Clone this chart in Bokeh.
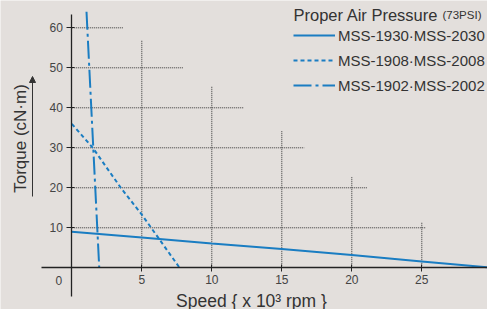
import math
from bokeh.plotting import figure
from bokeh.models import (Range1d, LinearAxis, FixedTicker, Label, Arrow, NormalHead,
                          Legend, LegendItem)
from bokeh.embed import file_html
from bokeh.resources import INLINE

# ---- data ----
speed_solid = [0, 5, 10, 15, 20, 25, 30]
torque_solid = [9.0, 7.6, 6.1, 4.7, 3.2, 1.6, 0.0]
speed_dashed = [0, 1.5, 3.5, 5, 7.7]
torque_dashed = [36.0, 30.0, 20.0, 13.3, 0.0]
speed_dashdot = [1.05, 1.96]
torque_dashdot = [64.0, 0.0]

series_names = ["MSS-1930·MSS-2030", "MSS-1908·MSS-2008", "MSS-1902·MSS-2002"]
x_ticks = [5, 10, 15, 20, 25, 30]
y_ticks = [10, 20, 30, 40, 50, 60]

# staircase guide lines
grid_h_y = [10, 20, 30, 40, 50, 60]
grid_h_end = [25.3, 21.1, 16.6, 12.3, 8.0, 3.7]
grid_v_x = [5, 10, 15, 20, 25]
grid_v_top = [57.0, 45.4, 34.2, 22.7, 11.3]

title_text = "Proper Air Pressure"
title_small = "(73PSI)"
x_title = "Speed { x 10³ rpm }"
y_title = "Torque (cN·m)"

BG = "#e3dfdc"
BLUE = "#1a7dc2"
INK = "#333333"
FONT = "Liberation Sans"

W, H = 487, 309
p = figure(width=W, height=H, output_backend="svg", toolbar_location=None,
           x_axis_type=None, y_axis_type=None,
           x_range=Range1d(-5.093, 29.693), y_range=Range1d(-10.43, 66.83),
           min_border=0, min_border_left=0, min_border_right=0,
           min_border_top=0, min_border_bottom=0)
p.background_fill_color = BG
p.border_fill_color = BG
p.outline_line_color = None
p.xgrid.visible = False
p.ygrid.visible = False

# guide lines
p.segment(x0=[0] * len(grid_h_y), y0=grid_h_y, x1=grid_h_end, y1=grid_h_y,
          line_color=INK, line_width=1, line_dash="1 1")
p.segment(x0=grid_v_x, y0=[0] * len(grid_v_x), x1=grid_v_x, y1=grid_v_top,
          line_color=INK, line_width=1, line_dash="1 1")

# axes
xax = LinearAxis(fixed_location=0, bounds=(-2.16, 30),
                 ticker=FixedTicker(ticks=x_ticks))
xax.major_tick_in = 3
xax.major_tick_out = 4
xax.minor_tick_line_color = None
xax.axis_line_color = "#222222"
xax.axis_line_width = 1.3
xax.major_tick_line_color = "#222222"
xax.major_label_text_font = FONT
xax.major_label_text_font_size = "12px"
xax.major_label_text_color = "#444444"
xax.major_label_standoff = 3
p.add_layout(xax, "below")

yax = LinearAxis(fixed_location=0, bounds=(-7.1, 63.4),
                 ticker=FixedTicker(ticks=y_ticks))
yax.major_tick_in = 3
yax.major_tick_out = 5
yax.minor_tick_line_color = None
yax.axis_line_color = "#222222"
yax.axis_line_width = 1.3
yax.major_tick_line_color = "#222222"
yax.major_label_text_font = FONT
yax.major_label_text_font_size = "12px"
yax.major_label_text_color = "#444444"
yax.major_label_standoff = 4
yax.major_label_orientation = "horizontal"
p.add_layout(yax, "left")

p.add_layout(Label(x=0, y=0, x_offset=-13, y_offset=-13, text="0",
                   text_font=FONT, text_font_size="12px", text_color="#444444",
                   text_align="center", text_baseline="middle"))

# series
r1 = p.line(speed_solid, torque_solid, line_color=BLUE, line_width=2)
r2 = p.line(speed_dashed, torque_dashed, line_color=BLUE, line_width=2, line_dash="4 3")
r3 = p.line(speed_dashdot, torque_dashdot, line_color=BLUE, line_width=2,
            line_dash="18 4 3 4")

legend = Legend(items=[LegendItem(label=series_names[0], renderers=[r1]),
                       LegendItem(label=series_names[1], renderers=[r2]),
                       LegendItem(label=series_names[2], renderers=[r3])],
                location=(293, 214), orientation="vertical",
                glyph_width=42, glyph_height=20, label_height=20, spacing=5,
                padding=0, margin=0, label_standoff=3,
                label_text_font=FONT, label_text_font_size="15px",
                label_text_color=INK, background_fill_alpha=0,
                border_line_alpha=0)
p.add_layout(legend, "center")

# titles
p.add_layout(Label(x=293, y=H - 14, x_units="screen", y_units="screen",
                   text=title_text, text_font=FONT, text_font_size="16.5px",
                   text_color=INK, text_baseline="alphabetic"))
p.add_layout(Label(x=442, y=H - 14, x_units="screen", y_units="screen",
                   text=title_small, text_font=FONT, text_font_size="11.5px",
                   text_color=INK, text_baseline="alphabetic"))
p.add_layout(Label(x=251, y=H - 300, x_units="screen", y_units="screen",
                   text=x_title, text_font=FONT, text_font_size="17.5px",
                   text_color=INK, text_align="center", text_baseline="middle"))
p.add_layout(Label(x=20, y=H - 138, x_units="screen", y_units="screen",
                   text=y_title, text_font=FONT, text_font_size="17px",
                   text_color=INK, text_align="center", text_baseline="middle",
                   angle=math.pi / 2))
p.add_layout(Arrow(x_start=32, y_start=H - 196, x_end=32, y_end=H - 76,
                   start_units="screen", end_units="screen",
                   line_color=INK, line_width=1,
                   end=NormalHead(size=6, fill_color=INK, line_color=INK)))

open("out.html", "w").write(file_html(p, INLINE))
